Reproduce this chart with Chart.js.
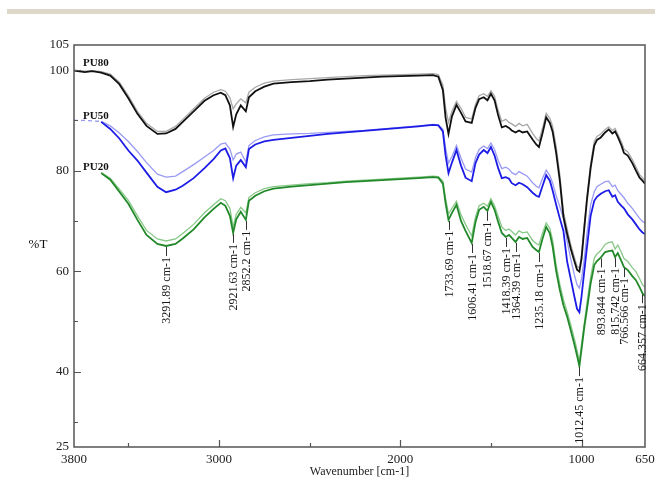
<!DOCTYPE html>
<html>
<head>
<meta charset="utf-8">
<script src="https://cdn.jsdelivr.net/npm/chart.js@4.4.1/dist/chart.umd.min.js"></script>
<style>
  html, body { margin: 0; padding: 0; background: #fff; }
  #band { position: absolute; left: 7px; top: 9px; width: 648px; height: 5px; background: #ddd8c9; }
  #chart { position: absolute; left: 0; top: 0; }
</style>
</head>
<body>
<div id="band"></div>
<canvas id="chart" width="655" height="483"></canvas>
<script>
// wavenumbers (cm-1) shared by every spectrum
const waves = [3800,3740,3700,3650,3600,3550,3500,3450,3400,3340,
  3292,3240,3200,3140,3080,3030,2990,2965,2940,2922,
  2905,2880,2852,2835,2800,2750,2700,2600,2500,2400,
  2300,2200,2100,2000,1900,1820,1790,1765,1750,1734,
  1715,1690,1665,1640,1606,1585,1565,1540,1519,1500,
  1480,1460,1440,1418,1400,1385,1364,1345,1325,1300,
  1270,1250,1235,1215,1195,1175,1160,1140,1120,1100,
  1080,1060,1040,1025,1012,1000,985,970,950,930,
  915,894,870,850,830,815,800,780,766,745,
  720,700,680,664,650];

// %T, dark trace and lighter companion trace of each sample
const pu80 = [99.9,99.6,99.8,99.5,98.9,97.2,94.4,91.3,88.9,87.3,
  87.4,88.3,89.7,91.8,93.9,95.0,95.5,95.0,93.0,88.7,
  91.2,93.0,91.8,94.6,95.8,96.7,97.3,97.6,97.8,98.1,
  98.3,98.5,98.7,98.8,98.9,99.0,98.7,96.0,90.5,87.3,
  90.8,93.1,91.5,89.8,89.5,92.5,94.2,94.6,94.0,95.3,
  94.0,91.0,88.6,88.9,88.5,88.0,87.6,88.0,87.6,87.8,
  86.2,85.2,84.7,87.5,90.6,89.5,87.8,83.5,78.0,70.8,
  67.5,64.5,62.0,60.3,59.9,62.5,68.5,74.2,80.5,85.0,
  86.1,86.6,87.6,88.2,87.4,87.8,86.7,85.0,83.5,83.0,
  81.5,80.0,78.6,78.0,77.4];
const pu80Light = [100.0,99.8,99.9,99.7,99.2,97.6,94.9,91.8,89.4,87.8,
  87.8,88.8,90.2,92.3,94.4,95.6,96.1,95.8,94.5,92.3,
  93.3,94.3,93.5,95.6,96.6,97.4,97.8,98.1,98.3,98.5,
  98.7,98.9,99.0,99.1,99.2,99.3,99.1,97.0,92.5,89.6,
  91.8,93.8,92.4,90.6,90.3,93.2,94.9,95.3,94.8,95.9,
  94.8,92.0,89.8,90.2,89.6,89.3,88.8,89.4,88.9,89.2,
  87.4,86.4,85.9,88.5,91.4,90.4,88.9,84.8,79.2,71.8,
  68.5,65.3,62.8,61.0,60.6,63.3,69.3,75.0,81.3,85.8,
  86.8,87.3,88.2,88.7,88.0,88.4,87.3,85.7,84.3,83.7,
  82.2,80.7,79.2,78.6,78.1];

const pu50 = [null,null,null,89.7,88.3,86.4,84.0,82.0,79.6,76.8,
  75.7,76.2,77.0,78.5,80.5,82.3,84.0,84.4,82.5,78.5,
  81.0,82.1,80.7,84.3,85.2,85.8,86.1,86.5,86.9,87.3,
  87.6,87.9,88.2,88.5,88.8,89.1,89.0,87.8,83.0,79.5,
  81.6,84.1,81.0,78.6,77.9,81.5,83.2,84.1,83.5,84.7,
  83.0,80.5,78.5,78.7,78.4,77.5,77.1,77.6,77.3,76.7,
  75.6,75.0,74.8,77.0,79.1,78.0,76.1,73.2,70.5,68.0,
  62.0,58.5,55.0,52.5,51.8,55.0,60.0,64.8,71.0,74.0,
  74.8,75.4,75.9,76.1,74.8,75.1,73.8,73.0,72.5,71.3,
  70.3,69.3,68.3,67.7,67.4];
const pu50Light = [90.0,90.0,89.9,89.8,88.9,87.5,85.8,83.8,81.6,79.3,
  78.7,78.9,79.8,81.2,82.7,84.0,85.3,85.5,84.3,82.1,
  83.3,83.7,81.7,85.0,86.0,86.7,87.1,87.3,87.4,87.6,
  87.8,88.0,88.3,88.6,88.9,89.2,89.1,88.2,84.5,81.5,
  82.8,85.0,82.5,80.3,79.7,82.6,84.2,84.9,84.4,85.5,
  84.2,82.0,80.4,80.7,80.3,79.6,79.2,79.8,79.4,78.9,
  77.6,76.9,76.6,78.5,80.1,79.0,77.6,75.0,72.8,70.5,
  66.0,62.5,59.3,57.3,56.6,58.5,62.5,67.5,73.2,75.8,
  76.8,77.3,77.8,77.9,76.8,77.1,76.0,75.2,74.6,73.5,
  72.5,71.5,70.5,69.9,69.6];

const pu20 = [null,null,null,79.5,78.2,75.8,73.4,70.2,67.2,65.4,
  65.0,65.4,66.5,68.3,70.7,72.4,73.6,73.0,71.0,67.6,
  70.3,71.8,70.2,74.0,75.0,75.9,76.4,76.8,77.1,77.4,
  77.7,77.9,78.1,78.3,78.5,78.7,78.6,77.4,73.5,70.2,
  71.6,73.2,70.0,68.0,65.6,69.8,72.2,72.8,72.0,73.8,
  72.2,69.8,67.6,66.8,67.2,66.6,65.8,66.8,66.4,66.6,
  64.8,64.2,63.8,66.5,68.8,67.5,65.0,60.0,56.3,53.2,
  51.0,48.3,45.5,43.2,41.1,44.5,48.8,52.5,57.5,61.2,
  62.0,62.7,63.8,64.0,64.1,62.8,63.6,62.0,60.8,60.2,
  59.0,58.2,56.8,55.6,55.0];
const pu20Light = [null,null,null,79.6,78.5,76.3,74.1,71.0,68.1,66.4,
  66.0,66.4,67.5,69.3,71.6,73.2,74.4,74.0,72.5,68.8,
  71.3,72.7,71.6,74.7,75.6,76.4,76.8,77.1,77.4,77.6,
  77.9,78.1,78.3,78.5,78.7,78.9,78.8,77.9,74.5,71.4,
  72.5,73.9,71.2,69.3,67.0,70.8,73.0,73.5,72.9,74.4,
  73.0,70.9,68.8,68.1,68.4,67.9,67.2,68.0,67.6,67.8,
  66.1,65.5,65.2,67.6,69.6,68.5,66.2,61.2,57.4,54.3,
  52.0,49.4,46.6,44.3,42.0,45.5,49.6,53.7,58.8,62.6,
  63.4,64.1,65.3,65.7,65.8,64.4,65.2,63.7,62.5,61.9,
  60.7,59.9,58.5,57.3,56.8];

// peaks marked on the PU20 trace
const peakWaves = [3292,2922,2852,1734,1606,1519,1418,1364,1235,1012,894,815,766,664];
const peakLabels = ["3291.89 cm-1","2921.63 cm-1","2852.2 cm-1","1733.69 cm-1","1606.41 cm-1",
  "1518.67 cm-1","1418.39 cm-1","1364.39 cm-1","1235.18 cm-1","1012.45 cm-1",
  "893.844 cm-1","815.742 cm-1","766.566 cm-1","664.357 cm-1"];

const xTickValues = [3800,3500,3000,2500,2000,1500,1000,650];
const xTickLabels = [3800,3000,2000,1000,650];
const yTickValues = [25,30,40,50,60,70,80,90,100,105];
const yTickLabels = [25,40,60,80,100,105];

const serif = '"Liberation Serif", "Times New Roman", serif';

function pts(vals) {
  return waves.map((w, i) => ({ x: w, y: vals[i] })).filter(p => p.y !== null);
}

function line(label, vals, color, width, dashStart) {
  const ds = {
    label: label,
    data: pts(vals),
    borderColor: color,
    borderWidth: width,
    borderDash: [],
    pointRadius: 0,
    tension: 0,
    fill: false,
  };
  if (dashStart) {
    ds.segment = { borderDash: c => (c.p0.parsed.x > dashStart ? [4, 3] : []) };
  }
  return ds;
}

const extras = {
  id: "extras",
  afterDatasetsDraw(chart) {
    const { ctx, chartArea: a, scales: { x, y } } = chart;
    ctx.save();
    ctx.setLineDash([]);

    // box round the plot
    ctx.strokeStyle = "#555";
    ctx.lineWidth = 1.5;
    ctx.strokeRect(a.left, a.top, a.right - a.left, a.bottom - a.top);

    // ticks pointing inward
    ctx.lineWidth = 1.2;
    ctx.beginPath();
    xTickValues.forEach(v => {
      if (v === 3800 || v === 650) return;
      const px = Math.round(x.getPixelForValue(v)) + 0.5;
      const len = xTickLabels.includes(v) ? 7 : 4;
      ctx.moveTo(px, a.bottom);
      ctx.lineTo(px, a.bottom - len);
    });
    yTickValues.forEach(v => {
      if (v === 25 || v === 105) return;
      const py = Math.round(y.getPixelForValue(v)) + 0.5;
      const len = yTickLabels.includes(v) ? 7 : 4;
      ctx.moveTo(a.left, py);
      ctx.lineTo(a.left + len, py);
    });
    ctx.stroke();

    // peak labels, read bottom to top
    ctx.font = "12px " + serif;
    ctx.fillStyle = "#1a1a1a";
    ctx.strokeStyle = "#333";
    ctx.lineWidth = 1;
    peakWaves.forEach((w, i) => {
      const k = waves.indexOf(w);
      const px = Math.round(x.getPixelForValue(w)) + 0.5;
      const py = y.getPixelForValue(pu20[k]);
      ctx.beginPath();
      ctx.moveTo(px, py + 1);
      ctx.lineTo(px, py + 10);
      ctx.stroke();
      ctx.save();
      ctx.translate(px, py + 11);
      ctx.rotate(-Math.PI / 2);
      ctx.textAlign = "right";
      ctx.textBaseline = "middle";
      ctx.fillText(peakLabels[i], 0, 0);
      ctx.restore();
    });

    // sample names
    ctx.font = "bold 11px " + serif;
    ctx.fillStyle = "#111";
    ctx.textAlign = "left";
    ctx.textBaseline = "alphabetic";
    [["PU80", pu80Light, 4], ["PU50", pu50Light, 1], ["PU20", pu20, 3]].forEach(([name, vals, gap]) => {
      const first = vals.find(v => v !== null);
      ctx.fillText(name, a.left + 9, y.getPixelForValue(first) - gap);
    });

    // y axis name
    ctx.font = "13px " + serif;
    ctx.textAlign = "center";
    ctx.textBaseline = "middle";
    ctx.fillText("%T", 38, 245);
    ctx.restore();
  }
};

new Chart(document.getElementById("chart"), {
  type: "line",
  data: {
    datasets: [
      line("PU80", pu80, "#111111", 1.8),
      line("PU50", pu50, "#1c1ce6", 1.8),
      line("PU20", pu20, "#22892a", 1.8),
      line("PU80 light", pu80Light, "#a8a8a8", 1.3),
      line("PU50 light", pu50Light, "#9a9af4", 1.3, 3660),
      line("PU20 light", pu20Light, "#88c888", 1.3),
    ],
  },
  options: {
    responsive: false,
    animation: false,
    layout: { padding: { left: 0, right: 10, top: 45, bottom: 0 } },
    plugins: { legend: { display: false }, tooltip: { enabled: false } },
    scales: {
      x: {
        type: "linear",
        reverse: true,
        min: 650,
        max: 3800,
        afterBuildTicks: s => { s.ticks = xTickValues.map(v => ({ value: v })); },
        afterFit: s => { s.height = 36; s.paddingLeft = 0; s.paddingRight = 0; },
        grid: { display: false, drawTicks: false },
        border: { display: false },
        ticks: {
          autoSkip: false,
          maxRotation: 0,
          padding: 5,
          color: "#222",
          font: { family: serif, size: 13 },
          callback: v => (xTickLabels.includes(v) ? String(v) : ""),
        },
        title: {
          display: true,
          text: "Wavenumber [cm-1]",
          color: "#222",
          font: { family: serif, size: 12 },
          padding: { top: 0, bottom: 4 },
        },
      },
      y: {
        min: 25,
        max: 105,
        afterBuildTicks: s => { s.ticks = yTickValues.map(v => ({ value: v })); },
        afterFit: s => { s.width = 74; s.paddingTop = 0; s.paddingBottom = 0; },
        grid: { display: false, drawTicks: false },
        border: { display: false },
        ticks: {
          autoSkip: false,
          padding: 5,
          color: "#222",
          font: { family: serif, size: 13 },
          callback: v => (yTickLabels.includes(v) ? String(v) : ""),
        },
      },
    },
  },
  plugins: [extras],
});
</script>
</body>
</html>
